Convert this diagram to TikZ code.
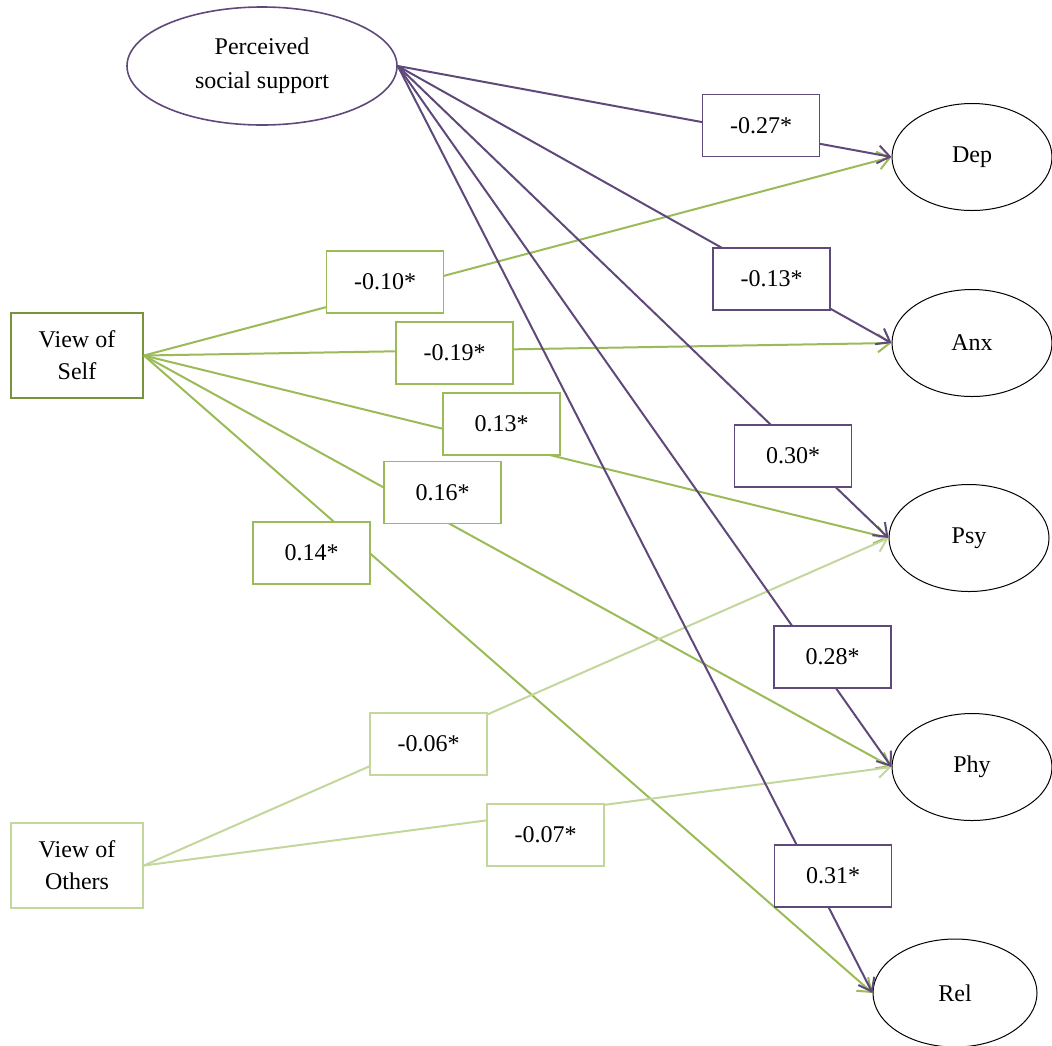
\documentclass[tikz,border=0pt]{standalone}
\usepackage{fontspec}
\setmainfont{Liberation Serif}
\usetikzlibrary{shapes.geometric,arrows.meta}
\definecolor{pssc}{HTML}{5F497A}
\definecolor{selfc}{HTML}{9BBB59}
\definecolor{selfbox}{HTML}{77933C}
\definecolor{othc}{HTML}{C3D69B}
\begin{document}
\begin{tikzpicture}[x=0.5pt,y=-0.5pt,
  font=\fontsize{12}{16}\selectfont,
  latent/.style={ellipse, draw, line width=0.5pt, inner sep=0pt,
    minimum width=80pt, minimum height=53.5pt, align=center},
  observed/.style={rectangle, draw, line width=0.9pt, minimum width=66pt,
    minimum height=42.5pt, align=center, inner sep=0pt},
  coef/.style={rectangle, draw, fill=white, line width=0.8pt,
    minimum width=58.5pt, minimum height=31pt, inner sep=0pt},
  regpath/.style={line width=1pt, -{Straight Barb[length=6pt,width=9pt]}},
]
\useasboundingbox (0,0) rectangle (1052,1045);

% predictors
\node[latent, draw=pssc, line width=0.8pt, minimum width=135pt, minimum height=59pt,
  font=\fontsize{12}{17}\selectfont]
  (pss) at (262,66) {Perceived\\social support};
\node[observed, draw=selfbox] (self) at (77,355.5) {View of\\Self};
\node[observed, draw=othc] (oth) at (77,865.5) {View of\\Others};

% outcomes
\node[latent] (dep) at (972,157) {Dep};
\node[latent] (anx) at (972,343) {Anx};
\node[latent] (psy) at (969,538) {Psy};
\node[latent] (phy) at (972,767) {Phy};
\node[latent, minimum width=82pt, minimum height=54pt] (rel) at (955,993) {Rel};

% regression paths
\foreach \t in {dep,anx,psy,phy,rel}
  \draw[regpath, selfc] (self.east) -- (\t.west);
\foreach \t in {psy,phy}
  \draw[regpath, othc] (oth.east) -- (\t.west);
\foreach \t in {dep,anx,psy,phy,rel}
  \draw[regpath, pssc] (pss.east) -- (\t.west);

% path coefficients
\node[coef, draw=pssc] (kdep) at (761,125.5) {-0.27*};
\node[coef, draw=pssc] (kanx) at (771.5,279) {-0.13*};
\node[coef, draw=pssc] (kpsy) at (793,456) {0.30*};
\node[coef, draw=pssc] (kphy) at (832.5,657) {0.28*};
\node[coef, draw=pssc] (krel) at (833,876) {0.31*};

\node[coef, draw=selfc] (sdep) at (385,282) {-0.10*};
\node[coef, draw=selfc] (sanx) at (454.5,353) {-0.19*};
\node[coef, draw=selfc] (spsy) at (501.5,424) {0.13*};
\node[coef, draw=selfc] (sphy) at (442.5,492.5) {0.16*};
\node[coef, draw=selfc] (srel) at (311.5,553) {0.14*};

\node[coef, draw=othc] (opsy) at (428.5,744) {-0.06*};
\node[coef, draw=othc] (ophy) at (545.5,835) {-0.07*};
\end{tikzpicture}
\end{document}
